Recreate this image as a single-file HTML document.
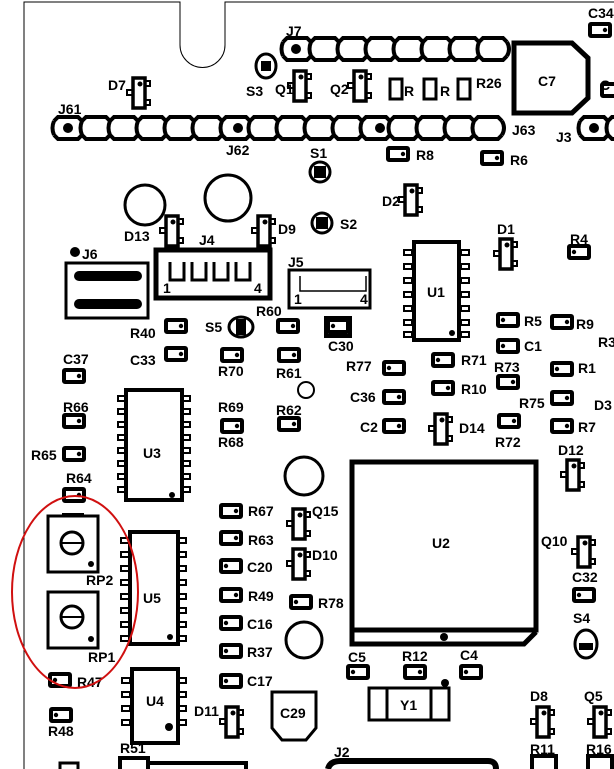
<!DOCTYPE html>
<html><head><meta charset="utf-8"><style>
html,body{margin:0;padding:0;background:#fff;width:614px;height:769px;overflow:hidden}
svg{display:block}
text{font-family:"Liberation Sans",sans-serif;font-weight:bold;font-size:14px;fill:#000}
</style></head><body>
<svg width="614" height="769" viewBox="0 0 614 769" xmlns="http://www.w3.org/2000/svg">
<defs>
<symbol id="pr" overflow="visible"><rect x="2" y="2" width="20" height="12" fill="none" stroke="#000" stroke-width="4" rx="1"/><circle cx="17" cy="8" r="2.2"/></symbol>
<symbol id="pl" overflow="visible"><rect x="2" y="2" width="20" height="12" fill="none" stroke="#000" stroke-width="4" rx="1"/><circle cx="7" cy="8" r="2.2"/></symbol>
<symbol id="sot" overflow="visible"><rect x="2" y="2" width="12" height="30" fill="none" stroke="#000" stroke-width="3.5"/><rect x="-4" y="14" width="6" height="5" fill="none" stroke="#000" stroke-width="2"/><rect x="14" y="5" width="5" height="5" fill="none" stroke="#000" stroke-width="2"/><rect x="14" y="24" width="5" height="5" fill="none" stroke="#000" stroke-width="2"/><circle cx="9" cy="8" r="2.5"/></symbol>
<symbol id="pin" overflow="visible"><rect x="0" y="0" width="8" height="5" fill="none" stroke="#000" stroke-width="2"/></symbol>
<symbol id="hp" overflow="visible"><path d="M0 4 L4 0 h20 l4 4 M0 18 L4 22 h20 l4 -4 M0 4 Q-3 11 0 18" fill="none" stroke="#000" stroke-width="4"/></symbol>
</defs>
<g fill="none" stroke="#000" stroke-width="1">
<path d="M24 769 V2 H180 V45 A22 22 0 0 0 225 45 V2 H614"/>
</g>
<!-- headers -->
<g>
<use href="#hp" x="283" y="38"/><use href="#hp" x="311" y="38"/><use href="#hp" x="339" y="38"/><use href="#hp" x="367" y="38"/><use href="#hp" x="395" y="38"/><use href="#hp" x="423" y="38"/><use href="#hp" x="451" y="38"/><use href="#hp" x="479" y="38"/>
<path d="M507 42 Q511 49 507 56" fill="none" stroke="#000" stroke-width="4"/>
<use href="#hp" x="54" y="117"/><use href="#hp" x="82" y="117"/><use href="#hp" x="110" y="117"/><use href="#hp" x="138" y="117"/><use href="#hp" x="166" y="117"/><use href="#hp" x="194" y="117"/><use href="#hp" x="222" y="117"/><use href="#hp" x="250" y="117"/><use href="#hp" x="278" y="117"/><use href="#hp" x="306" y="117"/><use href="#hp" x="334" y="117"/><use href="#hp" x="362" y="117"/><use href="#hp" x="390" y="117"/><use href="#hp" x="418" y="117"/><use href="#hp" x="446" y="117"/><use href="#hp" x="474" y="117"/>
<path d="M502 121 Q506 128 502 135" fill="none" stroke="#000" stroke-width="4"/>
<use href="#hp" x="580" y="117"/><use href="#hp" x="608" y="117"/>
<circle cx="68" cy="128" r="5"/><circle cx="238" cy="128" r="5"/><circle cx="380" cy="128" r="5"/><circle cx="594" cy="128" r="5"/><circle cx="296" cy="49" r="5"/>
</g>
<text x="286" y="36">J7</text><text x="58" y="114">J61</text><text x="226" y="155">J62</text><text x="512" y="135">J63</text><text x="556" y="142">J3</text>
<!-- C7 -->
<path d="M514 43 H572 L588 58 V98 L572 113 H514 Z" fill="none" stroke="#000" stroke-width="5"/>
<text x="538" y="86">C7</text>
<use href="#pr" x="588" y="22"/><text x="588" y="18" font-size="11">C34</text>
<use href="#pr" x="600" y="82"/><text x="600" y="90">C</text>
<!-- top small parts -->
<ellipse cx="266" cy="66" rx="10" ry="12" fill="none" stroke="#000" stroke-width="3"/><rect x="261" y="61" width="10" height="10"/><text x="246" y="96">S3</text>
<use href="#sot" x="131" y="76"/><text x="108" y="90">D7</text>
<use href="#sot" x="292" y="69"/><text x="275" y="94">Q1</text>
<use href="#sot" x="352" y="69"/><text x="330" y="94">Q2</text>
<rect x="390" y="79" width="12" height="20" fill="none" stroke="#000" stroke-width="3"/><rect x="424" y="79" width="12" height="20" fill="none" stroke="#000" stroke-width="3"/><rect x="458" y="79" width="12" height="20" fill="none" stroke="#000" stroke-width="3"/>
<text x="404" y="96" font-size="10">R</text><text x="440" y="96" font-size="10">R</text>
<text x="476" y="88">R26</text>
<circle cx="320" cy="172" r="10" fill="none" stroke="#000" stroke-width="3"/><rect x="314" y="166" width="12" height="12"/><text x="310" y="158">S1</text>
<circle cx="322" cy="223" r="10" fill="none" stroke="#000" stroke-width="3"/><rect x="316" y="217" width="12" height="12"/><text x="340" y="229">S2</text>
<use href="#pr" x="386" y="146"/><text x="416" y="160">R8</text>
<use href="#pr" x="480" y="150"/><text x="510" y="165">R6</text>
<use href="#sot" x="403" y="183"/><text x="382" y="206">D2</text>
<circle cx="145" cy="205" r="20" fill="none" stroke="#000" stroke-width="3"/>
<circle cx="228" cy="198" r="23" fill="none" stroke="#000" stroke-width="3"/>
<use href="#sot" x="164" y="214"/><text x="124" y="241">D13</text>
<use href="#sot" x="256" y="214"/><text x="278" y="234">D9</text>
<!-- J6 -->
<circle cx="75" cy="252" r="5"/><text x="82" y="259">J6</text>
<rect x="66" y="263" width="82" height="55" fill="none" stroke="#000" stroke-width="3"/>
<rect x="74" y="271" width="68" height="10" rx="5"/><rect x="74" y="299" width="68" height="10" rx="5"/>
<!-- J4 -->
<text x="199" y="245">J4</text>
<rect x="156" y="250" width="114" height="48" fill="none" stroke="#000" stroke-width="5"/>
<path d="M170 262 v18 h14 v-18 M192 262 v18 h14 v-18 M214 262 v18 h14 v-18 M236 262 v18 h14 v-18" fill="none" stroke="#000" stroke-width="3"/>
<text x="163" y="293" font-size="11">1</text><text x="254" y="293" font-size="12">4</text>
<!-- J5 -->
<text x="288" y="267">J5</text>
<rect x="289" y="270" width="81" height="38" fill="none" stroke="#000" stroke-width="3"/>
<path d="M300 276 v15 h66 v-15" fill="none" stroke="#000" stroke-width="1.5"/>
<text x="294" y="304" font-size="11">1</text><text x="360" y="304" font-size="12">4</text>
<!-- U1 -->
<rect x="414" y="242" width="45" height="98" fill="none" stroke="#000" stroke-width="4"/>
<use href="#pin" x="404" y="250"/><use href="#pin" x="404" y="264"/><use href="#pin" x="404" y="278"/><use href="#pin" x="404" y="292"/><use href="#pin" x="404" y="306"/><use href="#pin" x="404" y="320"/><use href="#pin" x="404" y="332"/>
<use href="#pin" x="461" y="250"/><use href="#pin" x="461" y="264"/><use href="#pin" x="461" y="278"/><use href="#pin" x="461" y="292"/><use href="#pin" x="461" y="306"/><use href="#pin" x="461" y="320"/><use href="#pin" x="461" y="332"/>
<circle cx="452" cy="333" r="3"/><text x="427" y="297">U1</text>
<use href="#sot" x="498" y="237"/><text x="497" y="234">D1</text>
<use href="#pl" x="567" y="244"/><text x="570" y="244">R4</text>
<!-- middle left -->
<use href="#pr" x="164" y="318"/><text x="130" y="338">R40</text>
<ellipse cx="241" cy="327" rx="12" ry="10" fill="none" stroke="#000" stroke-width="3"/><rect x="236" y="319" width="10" height="16"/><text x="205" y="332">S5</text>
<text x="256" y="316">R60</text><use href="#pr" x="276" y="318"/>
<use href="#pl" x="326" y="318"/><rect x="326" y="318" width="24" height="18" fill="none" stroke="#000" stroke-width="4"/><text x="328" y="351">C30</text>
<use href="#pr" x="164" y="346"/><text x="130" y="365">C33</text>
<use href="#pr" x="220" y="347"/><text x="218" y="376">R70</text>
<use href="#pr" x="277" y="347"/><text x="276" y="378">R61</text>
<text x="63" y="364">C37</text><use href="#pr" x="62" y="368"/>
<text x="63" y="412">R66</text><use href="#pr" x="62" y="413"/>
<text x="31" y="460">R65</text><use href="#pr" x="62" y="446"/>
<text x="66" y="483">R64</text><use href="#pr" x="62" y="487"/>
<circle cx="306" cy="390" r="8" fill="none" stroke="#000" stroke-width="2"/>
<!-- U3 -->
<rect x="126" y="390" width="56" height="110" fill="none" stroke="#000" stroke-width="4"/>
<use href="#pin" x="118" y="396"/><use href="#pin" x="118" y="409"/><use href="#pin" x="118" y="422"/><use href="#pin" x="118" y="435"/><use href="#pin" x="118" y="448"/><use href="#pin" x="118" y="461"/><use href="#pin" x="118" y="474"/><use href="#pin" x="118" y="487"/>
<use href="#pin" x="182" y="396"/><use href="#pin" x="182" y="409"/><use href="#pin" x="182" y="422"/><use href="#pin" x="182" y="435"/><use href="#pin" x="182" y="448"/><use href="#pin" x="182" y="461"/><use href="#pin" x="182" y="474"/><use href="#pin" x="182" y="487"/>
<circle cx="172" cy="495" r="3"/><text x="143" y="458">U3</text>
<text x="218" y="412">R69</text>
<use href="#pr" x="220" y="418"/><text x="218" y="447">R68</text>
<text x="276" y="415">R62</text><use href="#pr" x="277" y="416"/>
<!-- right middle -->
<text x="346" y="371">R77</text><use href="#pl" x="382" y="360"/>
<use href="#pl" x="431" y="352"/><text x="461" y="365">R71</text>
<text x="350" y="402">C36</text><use href="#pr" x="382" y="389"/>
<use href="#pr" x="431" y="380"/><text x="461" y="394">R10</text>
<text x="360" y="432">C2</text><use href="#pr" x="382" y="418"/>
<use href="#sot" x="433" y="412"/><text x="459" y="433">D14</text>
<use href="#pr" x="497" y="413"/><text x="495" y="447">R72</text>
<use href="#pl" x="496" y="312"/><text x="524" y="326">R5</text>
<use href="#pr" x="550" y="314"/><text x="576" y="329">R9</text>
<text x="598" y="347">R3</text>
<use href="#pl" x="496" y="338"/><text x="524" y="351">C1</text>
<text x="494" y="372">R73</text><use href="#pr" x="496" y="374"/>
<use href="#pl" x="550" y="361"/><text x="578" y="373">R1</text>
<text x="519" y="408">R75</text><use href="#pr" x="550" y="390"/>
<text x="594" y="410">D3</text>
<use href="#pr" x="550" y="418"/><text x="578" y="432">R7</text>
<text x="558" y="455">D12</text><use href="#sot" x="565" y="458"/>
<circle cx="304" cy="476" r="19" fill="none" stroke="#000" stroke-width="3"/>
<!-- U2 -->
<rect x="352" y="462" width="184" height="168" fill="none" stroke="#000" stroke-width="5"/>
<path d="M352 630 V644 H524 L536 632" fill="none" stroke="#000" stroke-width="5"/>
<circle cx="444" cy="637" r="4"/><text x="432" y="548">U2</text>
<!-- lower-mid column -->
<use href="#pr" x="219" y="503"/><text x="248" y="516">R67</text>
<use href="#pr" x="219" y="530"/><text x="248" y="545">R63</text>
<use href="#pl" x="219" y="558"/><text x="247" y="572">C20</text>
<use href="#pr" x="219" y="587"/><text x="248" y="601">R49</text>
<use href="#pl" x="219" y="615"/><text x="247" y="629">C16</text>
<use href="#pl" x="219" y="643"/><text x="247" y="657">R37</text>
<use href="#pl" x="219" y="673"/><text x="247" y="686">C17</text>
<use href="#sot" x="291" y="507"/><text x="312" y="516">Q15</text>
<use href="#sot" x="291" y="547"/><text x="312" y="560">D10</text>
<use href="#pl" x="289" y="594"/><text x="318" y="608">R78</text>
<circle cx="304" cy="640" r="18" fill="none" stroke="#000" stroke-width="3"/>
<text x="541" y="546" font-size="13">Q10</text><use href="#sot" x="576" y="535"/>
<text x="572" y="582">C32</text><use href="#pl" x="572" y="587"/>
<text x="573" y="623">S4</text>
<ellipse cx="586" cy="644" rx="11" ry="14" fill="none" stroke="#000" stroke-width="3"/><rect x="579" y="643" width="14" height="7"/>
<!-- RP -->
<rect x="48" y="516" width="50" height="56" fill="none" stroke="#000" stroke-width="3"/><rect x="62" y="513" width="22" height="4"/>
<circle cx="72" cy="543" r="11" fill="none" stroke="#000" stroke-width="3"/><line x1="61" y1="543" x2="83" y2="543" stroke="#000" stroke-width="2"/><circle cx="91" cy="564" r="3"/>
<text x="86" y="585">RP2</text>
<rect x="48" y="592" width="50" height="56" fill="none" stroke="#000" stroke-width="3"/>
<circle cx="72" cy="617" r="11" fill="none" stroke="#000" stroke-width="3"/><line x1="61" y1="617" x2="83" y2="617" stroke="#000" stroke-width="2"/><circle cx="91" cy="639" r="3"/>
<text x="88" y="662">RP1</text>
<!-- U5 -->
<rect x="130" y="532" width="48" height="112" fill="none" stroke="#000" stroke-width="4"/>
<use href="#pin" x="121" y="538"/><use href="#pin" x="121" y="552"/><use href="#pin" x="121" y="566"/><use href="#pin" x="121" y="580"/><use href="#pin" x="121" y="594"/><use href="#pin" x="121" y="608"/><use href="#pin" x="121" y="622"/><use href="#pin" x="121" y="636"/>
<use href="#pin" x="178" y="538"/><use href="#pin" x="178" y="552"/><use href="#pin" x="178" y="566"/><use href="#pin" x="178" y="580"/><use href="#pin" x="178" y="594"/><use href="#pin" x="178" y="608"/><use href="#pin" x="178" y="622"/><use href="#pin" x="178" y="636"/>
<circle cx="170" cy="637" r="3"/><text x="143" y="603">U5</text>
<!-- U4 -->
<rect x="132" y="669" width="46" height="74" fill="none" stroke="#000" stroke-width="4"/>
<use href="#pin" x="122" y="678"/><use href="#pin" x="122" y="692"/><use href="#pin" x="122" y="706"/><use href="#pin" x="122" y="720"/>
<use href="#pin" x="178" y="678"/><use href="#pin" x="178" y="692"/><use href="#pin" x="178" y="706"/><use href="#pin" x="178" y="720"/>
<circle cx="169" cy="727" r="4"/><text x="146" y="706">U4</text>
<use href="#pl" x="48" y="672"/><text x="77" y="687">R47</text>
<use href="#pl" x="49" y="707"/><text x="48" y="736">R48</text>
<text x="120" y="753">R51</text><rect x="120" y="758" width="28" height="14" fill="none" stroke="#000" stroke-width="4"/>
<rect x="148" y="763" width="98" height="10" fill="none" stroke="#000" stroke-width="4"/>
<rect x="60" y="763" width="18" height="10" fill="none" stroke="#000" stroke-width="3"/>
<use href="#sot" x="224" y="705"/><text x="194" y="716">D11</text>
<path d="M272 692 H316 V728 L306 740 H282 L272 728 Z" fill="none" stroke="#000" stroke-width="3"/><text x="280" y="718">C29</text>
<!-- bottom right -->
<text x="348" y="662">C5</text><use href="#pl" x="346" y="664"/>
<text x="402" y="661">R12</text><use href="#pr" x="403" y="664"/>
<text x="460" y="660">C4</text><use href="#pl" x="459" y="664"/>
<circle cx="445" cy="683" r="4"/>
<rect x="369" y="688" width="80" height="32" fill="none" stroke="#000" stroke-width="3"/>
<line x1="387" y1="688" x2="387" y2="720" stroke="#000" stroke-width="3"/><line x1="431" y1="688" x2="431" y2="720" stroke="#000" stroke-width="3"/>
<text x="400" y="710">Y1</text>
<text x="334" y="757">J2</text>
<path d="M328 769 Q330 761 340 761 H488 Q496 761 496 769" fill="none" stroke="#000" stroke-width="6"/>
<text x="530" y="701">D8</text><use href="#sot" x="535" y="705"/>
<text x="584" y="701">Q5</text><use href="#sot" x="592" y="705"/>
<text x="530" y="754">R11</text><rect x="532" y="756" width="24" height="16" fill="none" stroke="#000" stroke-width="4"/>
<text x="586" y="754">R16</text><rect x="588" y="756" width="24" height="16" fill="none" stroke="#000" stroke-width="4"/>
<!-- red ellipse -->
<ellipse cx="75" cy="592" rx="63" ry="96" fill="none" stroke="#d01010" stroke-width="2"/>
</svg>
</body></html>
